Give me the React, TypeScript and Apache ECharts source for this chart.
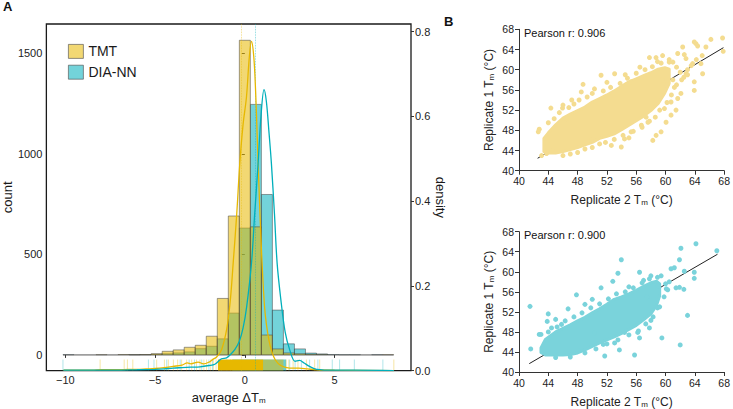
import React, { useEffect, useRef } from "react";
import * as echarts from "echarts";

const FONT = "'Liberation Sans', Arial, Helvetica, sans-serif";
const TMT = "#E7B800";
const DIA = "#00AFBB";
const TMT_FILL = "rgba(231,184,0,0.55)";
const DIA_FILL = "rgba(0,175,187,0.55)";
const BAR_STROKE = "rgba(70,70,70,0.65)";

// ---------- Panel A : histogram (30 bins) ----------
const BIN_FIRST_EDGE = -10.13;
const BIN_WIDTH = 0.614;
const tmtCounts = [0, 0, 0, 1, 0, 2, 1, 2, 6, 18, 25, 38, 48, 93, 281, 691, 1565, 637, 99, 30, 10, 6, 3, 2, 0, 0, 0, 0, 0, 1];
const diaCounts = [1, 0, 0, 0, 0, 0, 1, 1, 3, 6, 10, 15, 31, 43, 80, 208, 631, 1246, 798, 223, 55, 30, 9, 5, 2, 1, 1, 0, 1, 0];

const tmtDensity = [
  [-10.1, 0.001], [-8.5, 0.001], [-8, 0.002], [-7, 0.002], [-6.5, 0.003], [-6, 0.003], [-5.5, 0.004], [-5, 0.005],
  [-4.5, 0.007], [-4, 0.01], [-3.5, 0.013], [-3.2, 0.018], [-3, 0.016], [-2.6, 0.02], [-2.3, 0.016], [-2, 0.02],
  [-1.8, 0.026], [-1.57, 0.032], [-1.29, 0.05], [-1.0, 0.1], [-0.8, 0.17], [-0.65, 0.253], [-0.45, 0.37],
  [-0.28, 0.489], [-0.1, 0.58], [0.09, 0.645], [0.25, 0.74], [0.37, 0.777], [0.5, 0.74], [0.6, 0.66], [0.7, 0.54],
  [0.8, 0.42], [0.9, 0.31], [1.0, 0.22], [1.1, 0.15], [1.2, 0.11], [1.35, 0.07], [1.5, 0.045], [1.7, 0.025],
  [2.0, 0.012], [2.5, 0.006], [3.0, 0.006], [3.5, 0.004], [4.0, 0.002], [5, 0.001], [8.3, 0.0],
];
const diaDensity = [
  [-10.1, 0.001], [-8, 0.001], [-6, 0.002], [-5, 0.003], [-4.5, 0.004], [-4, 0.006], [-3.5, 0.007], [-3, 0.008],
  [-2.5, 0.009], [-2, 0.012], [-1.67, 0.015], [-1.3, 0.028], [-1.02, 0.03], [-0.8, 0.038], [-0.55, 0.05],
  [-0.3, 0.07], [-0.1, 0.1], [0.1, 0.15], [0.37, 0.253], [0.55, 0.37], [0.74, 0.489], [0.9, 0.6], [1.07, 0.663],
  [1.2, 0.635], [1.35, 0.56], [1.48, 0.489], [1.65, 0.37], [1.8, 0.253], [2.0, 0.17], [2.25, 0.09], [2.5, 0.049],
  [2.8, 0.022], [3.05, 0.024], [3.3, 0.018], [3.6, 0.01], [4.0, 0.003], [5, 0.001], [6, 0.001], [8.3, 0.0],
];

const tmtMean = -0.18;
const diaMean = 0.59;

const tmtRugX = [-8.06, -6.72, -6.54, -6.24, -4.91, -4.48, -4.26, -3.98, -3.74, -3.52, -3.24, -2.96, -2.69, -2.5, -2.28, -2.13, -1.9, -1.75, -1.6, 2.3, 2.45, 2.69, 2.96, 3.43, 3.89, 4.17, 8.3];
const diaRugX = [-10.13, -5.37, -5.06, -4.35, -3.6, -3.1, -2.8, -2.4, -2.0, -1.8, -1.3, -1.0, -0.8, 2.5, 2.8, 3.15, 3.61, 4.07, 4.87, 5.28, 6.1, 7.69];
const tmtRugDense = [[-1.5, 1.02]];
const tmtRugMixed = [[1.02, 2.15]];
const diaRugDense = [[-0.7, 2.3]];

const countTicks = [0, 500, 1000, 1500];
const deltaTicks = [-10, -5, 0, 5];
const densityTicks = [0, 0.2, 0.4, 0.6, 0.8];

const COUNT_MIN = -78;
const COUNT_MAX = 1646;
const DENS_MAX = 0.818;
const DELTA_MIN = -11.054;
const DELTA_MAX = 9.256;
const RUG_TOP = -23;

// ---------- Panel B : replicate scatter ----------
const pearsonTmt = "Pearson r: 0.906";
const pearsonDia = "Pearson r: 0.900";
const fitTmt = [[42.54, 42.46], [67.9, 64.36]];
const fitDia = [[41.4, 41.67], [67.09, 63.5]];

// dense core of each cloud: [Tm rep2, lower Tm rep1, upper Tm rep1]
const coreTmt = [
  [43.4, 43.8, 46.4], [44, 43.5, 47.5], [45, 43.5, 49.1], [46, 43.8, 50.4], [47, 44.2, 51.2], [48, 44.6, 51.9],
  [49, 45.1, 52.6], [50, 45.6, 53.6], [51, 46.4, 54.3], [52, 46.8, 55.0], [53, 47.3, 55.8], [54, 48.1, 56.7],
  [55, 49.0, 57.6], [56, 49.9, 58.2], [57, 50.8, 58.8], [58, 51.9, 59.4], [59, 53.3, 60.1], [59.9, 55.4, 60.4],
  [60.5, 57.3, 60.1],
];
const coreDia = [
  [43.0, 43.9, 44.8], [43.6, 43.4, 46.5], [45, 43.4, 48.0], [46, 43.4, 48.7], [47, 43.5, 49.4], [48, 43.8, 50.2],
  [49, 44.4, 50.9], [50, 45.1, 51.8], [51, 45.8, 52.6], [52, 46.4, 53.5], [53, 47.0, 54.5], [54, 47.7, 55.0],
  [55, 48.5, 55.6], [56, 49.3, 56.3], [57, 50.4, 57.1], [58, 51.6, 57.8], [58.8, 53.4, 58.1], [59.2, 55.2, 57.6],
];
const ptsTmt = [
  [66.19, 66.0], [67.78, 66.28], [67.87, 63.64], [65.51, 64.5], [64.15, 65.15], [63.92, 65.5], [64.38, 64.7],
  [62.34, 64.5], [61.66, 63.2], [62.56, 63.0], [62.79, 62.2], [63.7, 61.2], [64.83, 61.2], [65.06, 59.2],
  [63.92, 57.6], [63.92, 55.9], [62.1, 55.3], [61.66, 54.3], [61.43, 52.0], [60.75, 51.0], [60.07, 49.6],
  [59.39, 47.7], [58.71, 47.0], [58.26, 46.0], [60.75, 53.6], [59.85, 52.3], [57.8, 62.4], [58.7, 62.4],
  [58.9, 61.6], [59.6, 62.8], [53.05, 59.2], [48.74, 57.1], [44.35, 52.4], [45.94, 52.4], [42.63, 47.7],
  [42.76, 48.2], [43.76, 43.4], [43.08, 43.0], [46.48, 50.3], [53.96, 44.7], [52.6, 45.0], [49.88, 46.0],
  [55.3, 47.7], [56.7, 49.0], [57.6, 49.6], [57.35, 50.6], [54.4, 46.3], [48.5, 55.6], [50.3, 56.2], [47.2, 54.0],
  [51.2, 58.9], [55.3, 57.6], [61.0, 61.5], [61.5, 60.5], [62.0, 59.5], [61.0, 58.0], [62.5, 58.5], [60.5, 62.0],
  [56.5, 60.5], [54.5, 59.0], [52.0, 57.5], [46.0, 53.0], [44.5, 44.0], [47.0, 43.3], [49.0, 44.3], [51.0, 45.3],
  [55.0, 46.5], [63.0, 60.0], [60.2, 57.0], [61.2, 56.5], [62.8, 59.2], [59.5, 58.0],
  [44.0, 49.5], [44.8, 50.3], [45.5, 51.5], [46.8, 52.5], [47.5, 53.2], [48.2, 54.0], [49.3, 54.6], [50.0, 55.3],
  [51.5, 55.8], [52.5, 56.5], [53.8, 57.3], [54.8, 58.3], [56.0, 59.3], [57.2, 60.0], [58.2, 60.6], [59.4, 61.3],
  [60.5, 61.5], [46.0, 43.0], [48.0, 43.6], [50.0, 44.6], [51.8, 45.6], [53.0, 46.2], [54.2, 47.0], [55.6, 47.8],
  [56.8, 48.6], [57.8, 49.8], [58.6, 50.6], [59.2, 52.0], [60.2, 53.5], [60.8, 55.0], [61.5, 57.0], [62.2, 58.0],
  [63.0, 59.0], [63.5, 60.8], [64.2, 62.0], [65.0, 62.8],
];
const ptsDia = [
  [41.5, 53.1], [41.6, 44.6], [42.76, 47.5], [67.0, 64.2], [64.15, 65.6], [62.1, 64.7], [61.9, 62.4], [53.96, 62.4],
  [56.45, 59.9], [60.75, 60.6], [61.2, 60.8], [62.56, 60.1], [63.92, 59.9], [63.92, 58.7], [63.0, 51.3],
  [62.0, 45.4], [59.5, 46.8], [55.77, 43.4], [53.7, 44.4], [51.7, 43.2], [53.05, 45.8], [54.4, 47.9], [56.2, 47.9],
  [57.8, 48.8], [58.0, 50.3], [58.9, 52.8], [61.43, 56.8], [61.9, 56.9], [60.1, 56.6], [58.9, 58.9], [59.4, 59.2],
  [58.0, 59.2], [53.5, 59.7], [52.8, 58.1], [51.2, 56.8], [47.84, 55.4], [46.7, 52.6], [43.99, 51.6], [43.85, 50.1],
  [44.44, 48.8], [45.8, 49.5], [56.45, 46.8], [48.1, 44.2], [51.5, 45.5], [50.3, 47.8], [60.0, 57.6], [59.0, 57.2],
  [57.0, 58.3], [55.0, 57.0], [50.0, 54.5], [49.0, 53.5], [45.0, 50.5], [57.5, 55.0], [60.5, 58.0], [62.5, 56.5],
  [43.0, 47.5], [44.0, 48.0], [45.2, 49.0], [46.3, 50.2], [47.5, 51.0], [48.6, 51.8], [49.8, 52.8], [51.0, 53.6],
  [52.2, 54.6], [53.3, 55.6], [54.5, 56.0], [55.6, 56.8], [56.8, 57.8], [57.8, 58.6], [45.0, 42.9], [47.0, 43.0],
  [49.0, 43.8], [50.5, 44.6], [52.0, 45.6], [53.5, 46.4], [55.0, 47.4], [56.3, 48.2], [57.3, 49.6], [58.3, 51.0],
  [59.2, 53.0], [59.8, 55.0], [60.3, 56.4],
];

const tmAxisMin = 40;
const tmAxisMax = 68;
const tmInterval = 4;

function histItems(counts: number[]) {
  return counts.map((c, j) => [BIN_FIRST_EDGE + j * BIN_WIDTH, BIN_FIRST_EDGE + (j + 1) * BIN_WIDTH, c]);
}

function histRender(fill: string) {
  return (params: any, api: any) => {
    const x0 = api.value(0);
    const x1 = api.value(1);
    const c = api.value(2);
    const p0 = api.coord([x0, 0]);
    const p1 = api.coord([x1, c]);
    if (c <= 0) {
      return {
        type: "line",
        shape: { x1: p0[0], y1: p0[1], x2: p1[0], y2: p0[1] },
        style: { stroke: BAR_STROKE, lineWidth: 0.8 },
      };
    }
    return {
      type: "rect",
      shape: { x: p0[0], y: p1[1], width: p1[0] - p0[0], height: p0[1] - p1[1] },
      style: { fill, stroke: BAR_STROKE, lineWidth: 0.8 },
    };
  };
}

function rugLineRender(color: string, opacity: number) {
  return (params: any, api: any) => {
    const x = api.value(0);
    const a = api.coord([x, RUG_TOP]);
    const b = api.coord([x, COUNT_MIN]);
    return {
      type: "line",
      shape: { x1: a[0], y1: a[1], x2: b[0], y2: b[1] },
      style: { stroke: color, lineWidth: 0.9, opacity },
    };
  };
}

function rugBandRender(color: string, opacity: number) {
  return (params: any, api: any) => {
    const a = api.coord([api.value(0), RUG_TOP]);
    const b = api.coord([api.value(1), COUNT_MIN]);
    return {
      type: "rect",
      shape: { x: a[0], y: a[1], width: b[0] - a[0], height: b[1] - a[1] },
      style: { fill: color, opacity },
    };
  };
}

function coreRender(core: number[][], color: string) {
  return (params: any, api: any) => {
    if (params.dataIndex !== 0) return null;
    const lower = core.map((r) => api.coord([r[0], r[1]]));
    const upper = core.map((r) => api.coord([r[0], r[2]])).reverse();
    return {
      type: "polygon",
      shape: { points: lower.concat(upper) },
      style: { fill: color, stroke: color, lineWidth: 3, lineJoin: "round" },
    };
  };
}

const minus = (v: number) => String(v).replace("-", "\u2212");

export default function App() {
  const ref = useRef<HTMLDivElement>(null);

  useEffect(() => {
    if (!ref.current) return;
    const chart = echarts.init(ref.current, undefined, { renderer: "svg" });

    const tmAxisCommon = {
      type: "value",
      min: tmAxisMin,
      max: tmAxisMax,
      interval: tmInterval,
      axisLine: { show: true, onZero: false, lineStyle: { color: "#333", width: 1 } },
      axisTick: { show: true, length: 4, lineStyle: { color: "#333" } },
      axisLabel: { fontSize: 10.5, color: "#222", margin: 5, fontFamily: FONT },
      splitLine: { show: false },
      nameLocation: "middle",
      nameTextStyle: {
        fontSize: 12,
        color: "#222",
        fontFamily: FONT,
        rich: { sub: { fontSize: 8, verticalAlign: "bottom", padding: [5, 0, 0, 0], fontFamily: FONT, color: "#222" } },
      },
    };

    const tmtScatterColor = "#F4DC90";
    const diaScatterColor = "#7AD3DB";

    const option: any = {
      animation: false,
      backgroundColor: "#ffffff",
      textStyle: { fontFamily: FONT },
      legend: {
        data: ["TMT", "DIA-NN"],
        orient: "vertical",
        left: 63,
        top: 39,
        itemWidth: 15,
        itemHeight: 14,
        itemGap: 6,
        icon: "rect",
        selectedMode: false,
        itemStyle: { borderColor: "rgba(80,80,80,0.8)", borderWidth: 0.8 },
        textStyle: { fontSize: 14, color: "#1a1a1a", fontFamily: FONT },
      },
      grid: [
        { left: 45, top: 24, width: 366, height: 347, show: true, borderColor: "#1a1a1a", borderWidth: 1.3, backgroundColor: "transparent" },
        { left: 519, top: 29.3, width: 206.3, height: 141.4 },
        { left: 519, top: 231.7, width: 206, height: 141 },
      ],
      xAxis: [
        {
          type: "value",
          gridIndex: 0,
          min: DELTA_MIN,
          max: DELTA_MAX,
          axisLine: { show: false },
          axisTick: { show: true, length: 3, lineStyle: { color: "#333" }, customValues: deltaTicks },
          axisLabel: { fontSize: 11, color: "#222", margin: 4, customValues: deltaTicks, formatter: (v: number) => minus(v) },
          splitLine: { show: false },
          name: "average \u0394T{sub|m}",
          nameLocation: "middle",
          nameGap: 15,
          nameTextStyle: {
            fontSize: 13,
            color: "#1a1a1a",
            fontFamily: FONT,
            rich: { sub: { fontSize: 8, verticalAlign: "bottom", padding: [6, 0, 0, 0], fontFamily: FONT, color: "#1a1a1a" } },
          },
        },
        { ...tmAxisCommon, gridIndex: 1, name: "Replicate 2 T{sub|m} (\u00B0C)", nameGap: 23 },
        { ...tmAxisCommon, gridIndex: 2, name: "Replicate 2 T{sub|m} (\u00B0C)", nameGap: 23 },
      ],
      yAxis: [
        {
          type: "value",
          gridIndex: 0,
          min: COUNT_MIN,
          max: COUNT_MAX,
          axisLine: { show: false },
          axisTick: { show: true, length: 3, lineStyle: { color: "#333" }, customValues: countTicks },
          axisLabel: { fontSize: 11, color: "#222", margin: 4, customValues: countTicks, formatter: (v: number) => String(v) },
          splitLine: { show: false },
          name: "count",
          nameLocation: "middle",
          nameGap: 30,
          nameTextStyle: { fontSize: 13, color: "#1a1a1a", fontFamily: FONT },
        },
        {
          type: "value",
          gridIndex: 0,
          position: "right",
          min: 0,
          max: DENS_MAX,
          axisLine: { show: false },
          axisTick: { show: true, length: 3, lineStyle: { color: "#333" }, customValues: densityTicks },
          axisLabel: { fontSize: 11, color: "#222", margin: 4, customValues: densityTicks, formatter: (v: number) => v.toFixed(1) },
          splitLine: { show: false },
          name: "density",
          nameLocation: "middle",
          nameRotate: -90,
          nameGap: 22,
          nameTextStyle: { fontSize: 13, color: "#1a1a1a", fontFamily: FONT },
        },
        { ...tmAxisCommon, gridIndex: 1, name: "Replicate 1 T{sub|m} (\u00B0C)", nameGap: 24 },
        { ...tmAxisCommon, gridIndex: 2, name: "Replicate 1 T{sub|m} (\u00B0C)", nameGap: 24 },
      ],
      graphic: [
        { type: "text", left: 3, top: 0, style: { text: "A", fontSize: 13, fontWeight: "bold", fill: "#111", fontFamily: FONT } },
        { type: "text", left: 444, top: 15, style: { text: "B", fontSize: 13, fontWeight: "bold", fill: "#111", fontFamily: FONT } },
        { type: "text", left: 524, top: 27, style: { text: pearsonTmt, fontSize: 11, fill: "#111", fontFamily: FONT } },
        { type: "text", left: 524, top: 229, style: { text: pearsonDia, fontSize: 11, fill: "#111", fontFamily: FONT } },
      ],
      series: [
        // rug
        { type: "custom", name: "diaRug", xAxisIndex: 0, yAxisIndex: 0, data: diaRugX.map((x) => [x, 0]), renderItem: rugLineRender(DIA, 0.35), silent: true, z: 1 },
        { type: "custom", name: "diaRugDense", xAxisIndex: 0, yAxisIndex: 0, data: diaRugDense, renderItem: rugBandRender(DIA, 0.6), silent: true, z: 1 },
        { type: "custom", name: "tmtRug", xAxisIndex: 0, yAxisIndex: 0, data: tmtRugX.map((x) => [x, 0]), renderItem: rugLineRender(TMT, 0.4), silent: true, z: 2 },
        { type: "custom", name: "tmtRugDense", xAxisIndex: 0, yAxisIndex: 0, data: tmtRugDense, renderItem: rugBandRender(TMT, 1), silent: true, z: 2 },
        { type: "custom", name: "tmtRugMixed", xAxisIndex: 0, yAxisIndex: 0, data: tmtRugMixed, renderItem: rugBandRender(TMT, 0.5), silent: true, z: 2 },
        // histograms
        {
          type: "custom",
          name: "DIA-NN",
          xAxisIndex: 0,
          yAxisIndex: 0,
          data: histItems(diaCounts),
          encode: { x: [0, 1], y: 2 },
          itemStyle: { color: DIA_FILL },
          renderItem: histRender(DIA_FILL),
          z: 3,
        },
        {
          type: "custom",
          name: "TMT",
          xAxisIndex: 0,
          yAxisIndex: 0,
          data: histItems(tmtCounts),
          encode: { x: [0, 1], y: 2 },
          itemStyle: { color: TMT_FILL },
          renderItem: histRender(TMT_FILL),
          z: 4,
        },
        // densities
        {
          type: "line",
          name: "TMT density",
          xAxisIndex: 0,
          yAxisIndex: 1,
          data: tmtDensity,
          smooth: 0.35,
          showSymbol: false,
          lineStyle: { color: TMT, width: 1.3 },
          itemStyle: { color: TMT },
          z: 6,
          markLine: {
            silent: true,
            symbol: "none",
            label: { show: false },
            lineStyle: { color: TMT, type: "dotted", width: 0.8, opacity: 0.6 },
            data: [{ xAxis: tmtMean }],
          },
        },
        {
          type: "line",
          name: "DIA-NN density",
          xAxisIndex: 0,
          yAxisIndex: 1,
          data: diaDensity,
          smooth: 0.35,
          showSymbol: false,
          lineStyle: { color: DIA, width: 1.3 },
          itemStyle: { color: DIA },
          z: 6,
          markLine: {
            silent: true,
            symbol: "none",
            label: { show: false },
            lineStyle: { color: DIA, type: "dotted", width: 0.8, opacity: 0.6 },
            data: [{ xAxis: diaMean }],
          },
        },
        // scatter TMT
        { type: "line", name: "fitTmt", xAxisIndex: 1, yAxisIndex: 2, data: fitTmt, showSymbol: false, lineStyle: { color: "#222", width: 1 }, z: 1 },
        {
          type: "custom",
          name: "coreTmt",
          xAxisIndex: 1,
          yAxisIndex: 2,
          data: coreTmt,
          encode: { x: 0, y: [1, 2] },
          renderItem: coreRender(coreTmt, tmtScatterColor),
          silent: true,
          z: 2,
        },
        { type: "scatter", name: "ptsTmt", xAxisIndex: 1, yAxisIndex: 2, data: ptsTmt, symbolSize: 5, itemStyle: { color: tmtScatterColor, opacity: 1 }, z: 3 },
        // scatter DIA
        { type: "line", name: "fitDia", xAxisIndex: 2, yAxisIndex: 3, data: fitDia, showSymbol: false, lineStyle: { color: "#222", width: 1 }, z: 1 },
        {
          type: "custom",
          name: "coreDia",
          xAxisIndex: 2,
          yAxisIndex: 3,
          data: coreDia,
          encode: { x: 0, y: [1, 2] },
          renderItem: coreRender(coreDia, diaScatterColor),
          silent: true,
          z: 2,
        },
        { type: "scatter", name: "ptsDia", xAxisIndex: 2, yAxisIndex: 3, data: ptsDia, symbolSize: 5, itemStyle: { color: diaScatterColor, opacity: 1 }, z: 3 },
      ],
    };

    chart.setOption(option);
    return () => chart.dispose();
  }, []);

  return <div ref={ref} style={{ position: "absolute", left: 0, top: 0, width: 733, height: 409, background: "#fff" }} />;
}
